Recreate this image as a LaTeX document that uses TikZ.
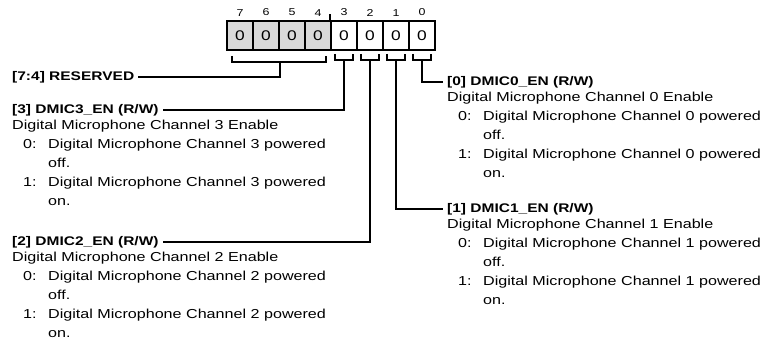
\documentclass[tikz,border=0pt]{standalone}
\usepackage{fontspec}
\setmainfont{Liberation Sans}[FakeStretch=1.24]
\usetikzlibrary{positioning}
\tikzset{
  bitbox/.style={draw, line width=1.6pt, minimum width=26pt, minimum height=29pt, inner sep=0pt, font=\fontsize{14}{14}\selectfont},
  bitnum/.style={inner sep=0pt, font=\fontsize{10}{10}\selectfont},
  field/.style={inner sep=0pt, anchor=west, font=\bfseries\fontsize{12.5}{14}\selectfont},
  fielddesc/.style={inner sep=0pt, align=left, font=\fontsize{13}{19}\selectfont},
  wire/.style={line width=1.6pt, line cap=butt, line join=miter},
}
\newcommand{\valrow}[2]{\hspace*{11pt}\makebox[25pt][l]{#1:}#2}
\newcommand{\micdesc}[1]{Digital Microphone Channel #1 Enable\\
  \valrow{0}{Digital Microphone Channel #1 powered}\\
  \hspace*{36pt}off.\\
  \valrow{1}{Digital Microphone Channel #1 powered}\\
  \hspace*{36pt}on.}
\begin{document}
\begin{tikzpicture}[x=1pt, y=-1pt]
  \useasboundingbox (0,0) rectangle (768,351);
  % register bits
  \foreach \b in {4,...,7}
    \node[bitbox, fill=gray!30] (box\b) at (422-26*\b,35.5) {0};
  \foreach \b in {0,...,3}
    \node[bitbox, fill=white] (box\b) at (422-26*\b,35.5) {0};
  \foreach \b in {0,...,7}
    \node[bitnum, above=4pt of box\b] (num\b) {\b};
  \draw[wire] (box3.north west) -- ++(0,-6);
  % brackets under the fields
  \foreach \b in {0,...,3} {
    \draw[wire] ([xshift=5pt,yshift=-3pt]box\b.south west) -- ++(0,6) -| ([xshift=-5pt,yshift=-3pt]box\b.south east);
    \coordinate (br\b) at ([yshift=-9pt]box\b.south);
  }
  \draw[wire] ([xshift=6pt,yshift=-5pt]box7.south west) -- ++(0,6) -| ([xshift=-6pt,yshift=-5pt]box4.south east);
  \coordinate (brR) at ([yshift=-11pt]box6.south east);
  % field names
  \node[field] (hdR) at (12,77) {[7:4] RESERVED};
  \node[field] (hd3) at (12,110) {[3] DMIC3\_EN (R/W)};
  \node[field] (hd2) at (12,242) {[2] DMIC2\_EN (R/W)};
  \node[field] (hd0) at (447,82) {[0] DMIC0\_EN (R/W)};
  \node[field] (hd1) at (447,209) {[1] DMIC1\_EN (R/W)};
  % descriptions
  \node[fielddesc, below=4pt of hd3.south west, anchor=north west] (ds3) {\micdesc{3}};
  \node[fielddesc, below=4pt of hd2.south west, anchor=north west] (ds2) {\micdesc{2}};
  \node[fielddesc, below=4pt of hd0.south west, anchor=north west] (ds0) {\micdesc{0}};
  \node[fielddesc, below=4pt of hd1.south west, anchor=north west] (ds1) {\micdesc{1}};
  % leaders
  \draw[wire, shorten >=4pt] (brR) |- (hdR.east);
  \draw[wire, shorten >=4pt] (br3) |- (hd3.east);
  \draw[wire, shorten >=4pt] (br2) |- (hd2.east);
  \draw[wire, shorten >=4pt] (br1) |- (hd1.west);
  \draw[wire, shorten >=4pt] (br0) |- (hd0.west);
\end{tikzpicture}
\end{document}
